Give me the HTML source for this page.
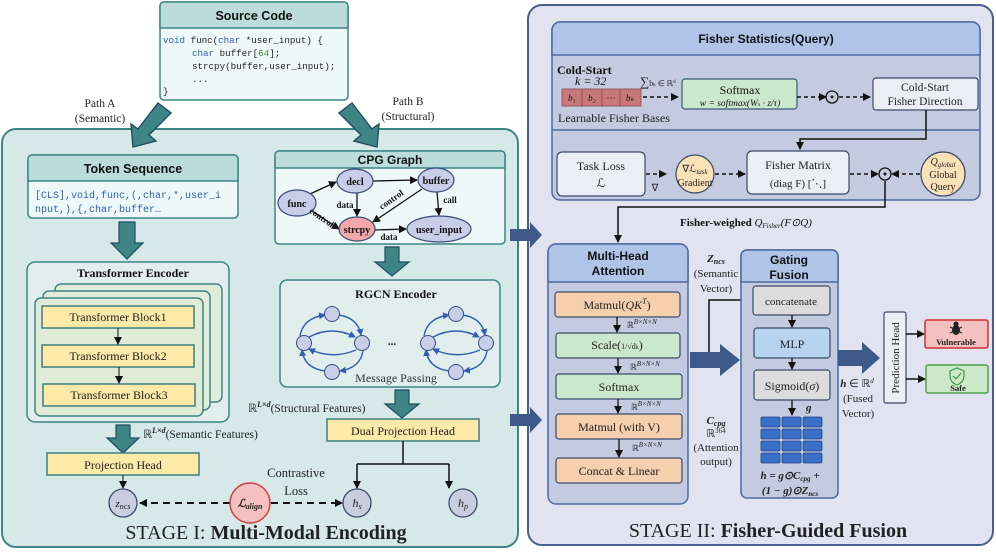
<!DOCTYPE html>
<html><head><meta charset="utf-8"><style>
html,body{margin:0;padding:0;background:#fff}
svg{display:block}
.s{font-family:"Liberation Sans",sans-serif}
.r{font-family:"Liberation Serif",serif}
.m{font-family:"Liberation Mono",monospace}
</style></head><body>
<svg width="996" height="555" viewBox="0 0 996 555" xmlns="http://www.w3.org/2000/svg">
<defs>
<marker id="a" markerWidth="8" markerHeight="8" refX="7" refY="4" orient="auto" markerUnits="userSpaceOnUse"><path d="M0,0 L8,4 L0,8 z" fill="#111"/></marker>
<marker id="ab" markerWidth="7" markerHeight="7" refX="6" refY="3.5" orient="auto" markerUnits="userSpaceOnUse"><path d="M0,0 L7,3.5 L0,7 z" fill="#2f5fb0"/></marker>
</defs>

<rect x="2" y="129" width="516" height="418" rx="14" fill="#d6e8e8" stroke="#3d8585" stroke-width="2"/>
<rect x="528" y="5" width="465" height="540" rx="14" fill="#e1e4f0" stroke="#4a5f8f" stroke-width="2"/>

<rect x="160" y="2" width="188" height="98" rx="4" fill="#eef8f8" stroke="#3d8585" stroke-width="1.5"/>
<path d="M164,2 H344 a4,4 0 0 1 4,4 V28 H160 V6 a4,4 0 0 1 4,-4z" fill="#bcdcdc" stroke="#3d8585" stroke-width="1.5"/>
<text x="254" y="20" text-anchor="middle" class="s" font-size="12.5" font-weight="bold" fill="#111">Source Code</text>
<g class="m" font-size="9.2" fill="#222">
<text x="163" y="43"><tspan fill="#3060b0">void</tspan> func(<tspan fill="#3060b0">char</tspan> *user_input) {</text>
<text x="192" y="56"><tspan fill="#3060b0">char</tspan> buffer[<tspan fill="#3a8a3a">64</tspan>];</text>
<text x="192" y="69">strcpy(buffer,user_input);</text>
<text x="192" y="82">...</text>
<text x="163" y="94">}</text>
</g>

<text x="100" y="107" text-anchor="middle" class="r" font-size="11.5" fill="#222">Path A</text>
<text x="100" y="122" text-anchor="middle" class="r" font-size="11.5" fill="#222">(Semantic)</text>
<text x="408" y="105" text-anchor="middle" class="r" font-size="11.5" fill="#222">Path B</text>
<text x="408" y="120" text-anchor="middle" class="r" font-size="11.5" fill="#222">(Structural)</text>

<polygon points="158,103 171,113 149,135 156,141 133,147 131,124 138,129" fill="#3f8585" stroke="#1f4f5f" stroke-width="1.4"/>
<polygon points="352,103 339,113 361,135 354,141 377,147 379,124 372,129" fill="#3f8585" stroke="#1f4f5f" stroke-width="1.4"/>

<rect x="28" y="155" width="210" height="63" rx="4" fill="#eef8f8" stroke="#3d8585" stroke-width="1.5"/>
<path d="M32,155 H234 a4,4 0 0 1 4,4 V181 H28 V159 a4,4 0 0 1 4,-4z" fill="#bcdcdc" stroke="#3d8585" stroke-width="1.5"/>
<text x="133" y="173" text-anchor="middle" class="s" font-size="12.5" font-weight="bold" fill="#111">Token Sequence</text>
<text x="35" y="198" class="m" font-size="10" fill="#3060b0">[CLS],void,func,(,char,*,user_i</text>
<text x="35" y="212" class="m" font-size="10" fill="#3060b0">nput,),{,char,buffer…</text>

<polygon points="119,222 135,222 135,243 143,243 127,259 111,243 119,243" fill="#3f8585" stroke="#1f4f5f" stroke-width="1.2"/>

<rect x="27" y="262" width="202" height="160" rx="8" fill="#e2eeee" stroke="#3d8585" stroke-width="1.5"/>
<text x="133" y="277" text-anchor="middle" class="r" font-size="12" font-weight="bold" fill="#111">Transformer Encoder</text>
<rect x="55" y="284" width="167" height="118" rx="6" fill="#e0ecd8" stroke="#3d8585" stroke-width="1.5"/>
<rect x="43" y="291" width="167" height="119" rx="6" fill="#e0ecd8" stroke="#3d8585" stroke-width="1.5"/>
<rect x="35" y="298" width="168" height="118" rx="6" fill="#e0ecd8" stroke="#3d8585" stroke-width="1.5"/>
<g stroke="#3d7f7f" stroke-width="1.5" fill="#fde9a8">
<rect x="42" y="306" width="152" height="22"/>
<rect x="42" y="345" width="152" height="22"/>
<rect x="43" y="384" width="152" height="22"/>
</g>
<g class="r" font-size="12" fill="#222" text-anchor="middle">
<text x="118" y="321">Transformer Block1</text>
<text x="118" y="360">Transformer Block2</text>
<text x="119" y="399">Transformer Block3</text>
</g>
<line x1="118" y1="328" x2="118" y2="344" stroke="#111" marker-end="url(#a)"/>
<line x1="119" y1="367" x2="119" y2="383" stroke="#111" marker-end="url(#a)"/>

<polygon points="116,425 130,425 130,438 139,438 123,453 107,438 116,438" fill="#3f8585" stroke="#1f4f5f" stroke-width="1.2"/>
<text x="143" y="438" class="r" font-size="11.5" fill="#222">ℝ<tspan font-size="8" dy="-5" font-style="italic" font-weight="bold">L×d</tspan><tspan dy="5">(Semantic Features)</tspan></text>

<rect x="47" y="453" width="152" height="22" fill="#fde9a8" stroke="#3d7f7f" stroke-width="1.5"/>
<text x="123" y="469" text-anchor="middle" class="r" font-size="12" fill="#222">Projection Head</text>
<line x1="123" y1="475" x2="123" y2="488" stroke="#111" marker-end="url(#a)"/>

<circle cx="123" cy="503" r="14" fill="#c8cee0" stroke="#3a4a6a" stroke-width="1.3"/>
<text x="123" y="507" text-anchor="middle" class="r" font-size="11" font-style="italic" fill="#222">z<tspan font-size="8" dy="2">ncs</tspan></text>
<line x1="230" y1="503" x2="140" y2="503" stroke="#111" stroke-width="2" stroke-dasharray="7,5" marker-end="url(#a)"/>
<line x1="271" y1="503" x2="342" y2="503" stroke="#111" stroke-width="2" stroke-dasharray="7,5" marker-end="url(#a)"/>
<circle cx="250" cy="503" r="20" fill="#f5c0c0" stroke="#d04040" stroke-width="1.5"/>
<text x="250" y="507" text-anchor="middle" class="r" font-size="11" font-style="italic" font-weight="bold" fill="#222">ℒ<tspan font-size="8" dy="2">align</tspan></text>
<text x="296" y="477" text-anchor="middle" class="r" font-size="12.5" fill="#222">Contrastive</text>
<text x="296" y="495" text-anchor="middle" class="r" font-size="12.5" fill="#222">Loss</text>
<circle cx="357" cy="503" r="14" fill="#c8cee0" stroke="#3a4a6a" stroke-width="1.3"/>
<text x="357" y="507" text-anchor="middle" class="r" font-size="12" font-style="italic" fill="#222">h<tspan font-size="8" dy="2">s</tspan></text>
<circle cx="463" cy="503" r="14" fill="#c8cee0" stroke="#3a4a6a" stroke-width="1.3"/>
<text x="463" y="507" text-anchor="middle" class="r" font-size="12" font-style="italic" fill="#222">h<tspan font-size="8" dy="2">p</tspan></text>

<text x="266" y="539" text-anchor="middle" class="r" font-size="20" fill="#222">STAGE I: <tspan font-weight="bold">Multi-Modal Encoding</tspan></text>

<rect x="275" y="151" width="230" height="93" rx="4" fill="#eef8f8" stroke="#3d8585" stroke-width="1.5"/>
<path d="M279,151 H501 a4,4 0 0 1 4,4 V168 H275 V155 a4,4 0 0 1 4,-4z" fill="#bcdcdc" stroke="#3d8585" stroke-width="1.5"/>
<text x="390" y="164" text-anchor="middle" class="s" font-size="12" font-weight="bold" fill="#111">CPG Graph</text>
<g stroke="#111" stroke-width="1.3">
<line x1="310" y1="194" x2="336" y2="182" marker-end="url(#a)"/>
<line x1="373" y1="181" x2="417" y2="180" marker-end="url(#a)"/>
<line x1="357" y1="193" x2="357" y2="216" marker-end="url(#a)"/>
<line x1="422" y1="189" x2="373" y2="222" marker-end="url(#a)"/>
<line x1="437" y1="192" x2="439" y2="215" marker-end="url(#a)"/>
<line x1="312" y1="211" x2="339" y2="229" marker-end="url(#a)"/>
<line x1="375" y1="230" x2="406" y2="229" marker-end="url(#a)"/>
</g>
<g fill="#c8cee8" stroke="#3a4a7a" stroke-width="1.2">
<ellipse cx="297" cy="203" rx="19" ry="13"/>
<ellipse cx="355" cy="181" rx="18" ry="12"/>
<ellipse cx="436" cy="180" rx="18" ry="12"/>
<ellipse cx="357" cy="229" rx="18" ry="12" fill="#f2a8a8"/>
<ellipse cx="439" cy="229" rx="32" ry="13"/>
</g>
<g class="r" font-size="10" font-weight="bold" fill="#111" text-anchor="middle">
<text x="297" y="207">func</text><text x="355" y="185">decl</text><text x="436" y="184">buffer</text>
<text x="357" y="233">strcpy</text><text x="439" y="233">user_input</text>
<text x="345" y="208" font-size="9">data</text><text x="450" y="203" font-size="9">call</text>
<text x="389" y="240" font-size="9">data</text>
<text x="393" y="202" font-size="9" transform="rotate(-35 393 202)">control</text>
<text x="320" y="220" font-size="9" transform="rotate(35 320 220)">control</text>
</g>

<polygon points="385,247 399,247 399,262 409,262 392,276 375,262 385,262" fill="#3f8585" stroke="#1f4f5f" stroke-width="1.2"/>

<rect x="280" y="280" width="220" height="107" rx="7" fill="#e2eeee" stroke="#3d8585" stroke-width="1.5"/>
<text x="396" y="298" text-anchor="middle" class="r" font-size="12" font-weight="bold" fill="#111">RGCN Encoder</text>
<g id="g1" fill="none" stroke="#2f5fb0" stroke-width="1.4">
<path d="M300,336 Q303,318 325,315" marker-end="url(#ab)"/>
<path d="M339,315 Q358,318 361,335" marker-end="url(#ab)"/>
<path d="M363,351 Q360,368 340,371" marker-end="url(#ab)"/>
<path d="M325,371 Q304,368 302,350" marker-end="url(#ab)"/>
<path d="M309,337 Q332,325 355,337" marker-end="url(#ab)"/>
<path d="M356,350 Q332,360 309,349" marker-end="url(#ab)"/>
</g>
<use href="#g1" transform="translate(124,0)"/>
<g fill="#c8cee8" stroke="#3a4a7a" stroke-width="1">
<circle cx="332" cy="314" r="7.5"/><circle cx="304" cy="343" r="7.5"/><circle cx="362" cy="343" r="7.5"/><circle cx="332" cy="372" r="7.5"/>
<circle cx="456" cy="314" r="7.5"/><circle cx="428" cy="343" r="7.5"/><circle cx="486" cy="343" r="7.5"/><circle cx="456" cy="372" r="7.5"/>
</g>
<text x="392" y="345" text-anchor="middle" class="r" font-size="11" font-weight="bold" fill="#222">...</text>
<text x="396" y="382" text-anchor="middle" class="r" font-size="12" fill="#333">Message Passing</text>

<polygon points="395,390 409,390 409,404 419,404 402,418 385,404 395,404" fill="#3f8585" stroke="#1f4f5f" stroke-width="1.2"/>
<text x="248" y="412" class="r" font-size="11.5" fill="#222">ℝ<tspan font-size="8" dy="-5" font-style="italic" font-weight="bold">L×d</tspan><tspan dy="5">(Structural Features)</tspan></text>
<rect x="327" y="419" width="152" height="22" fill="#fde9a8" stroke="#3d7f7f" stroke-width="1.5"/>
<text x="403" y="435" text-anchor="middle" class="r" font-size="12" fill="#222">Dual Projection Head</text>
<path d="M403,441 V464 M357,464 H449 M357,464 V488 M449,464 V488" fill="none" stroke="#111" stroke-width="1.5"/>
<line x1="357" y1="480" x2="357" y2="488" stroke="#111" marker-end="url(#a)"/>
<line x1="449" y1="480" x2="449" y2="488" stroke="#111" marker-end="url(#a)"/>

<polygon points="510,229 530,229 530,222 542,235 530,248 530,241 510,241" fill="#3d5a8a"/>
<polygon points="510,414 530,414 530,407 542,420 530,433 530,426 510,426" fill="#3d5a8a"/>

<rect x="552" y="22" width="428" height="178" rx="8" fill="#c4cbe0" stroke="#4a6aa0" stroke-width="1.5"/>
<path d="M560,22 H972 a8,8 0 0 1 8,8 V55 H552 V30 a8,8 0 0 1 8,-8z" fill="#b0c4e8" stroke="#4a6aa0" stroke-width="1.5"/>
<line x1="552" y1="130" x2="980" y2="130" stroke="#4a6aa0" stroke-width="1.5"/>
<text x="766" y="43" text-anchor="middle" class="s" font-size="12" font-weight="bold" fill="#111">Fisher Statistics(Query)</text>
<text x="557" y="74" class="r" font-size="12" font-weight="bold" fill="#111">Cold-Start</text>
<text x="575" y="85" class="r" font-size="12" font-style="italic" fill="#111">k = 32</text>
<text x="640" y="86" class="r" font-size="8" fill="#222"><tspan font-size="13">∑</tspan>b<tspan font-size="5">k</tspan> ∈ ℝ<tspan font-size="5" dy="-3">d</tspan></text>
<g fill="#c87878" stroke="#8a4a4a" stroke-width="0.8">
<rect x="562" y="89" width="20" height="17"/><rect x="582" y="89" width="20" height="17"/><rect x="602" y="89" width="18" height="17"/><rect x="620" y="89" width="21" height="17"/>
</g>
<g class="r" font-size="9" font-style="italic" fill="#111" text-anchor="middle">
<text x="572" y="101">b₁</text><text x="592" y="101">b₂</text><text x="611" y="101" font-style="normal">···</text><text x="630" y="101">bₖ</text>
</g>
<line x1="643" y1="97" x2="678" y2="97" stroke="#111" stroke-width="1.5" stroke-dasharray="4,3" marker-end="url(#a)"/>
<rect x="682" y="79" width="115" height="30" rx="3" fill="#cce8cc" stroke="#3a5a7a" stroke-width="1.2"/>
<text x="740" y="94" text-anchor="middle" class="r" font-size="12" fill="#111">Softmax</text>
<text x="740" y="106" text-anchor="middle" class="r" font-size="9.5" font-style="italic" fill="#111">w = softmax(W<tspan font-size="6">s</tspan> · z/τ)</text>
<line x1="797" y1="97" x2="826" y2="97" stroke="#111" stroke-width="1.5" stroke-dasharray="4,3" marker-end="url(#a)"/>
<circle cx="832" cy="97" r="6" fill="none" stroke="#111" stroke-width="1.3"/><circle cx="832" cy="97" r="1.5" fill="#111"/>
<line x1="839" y1="97" x2="870" y2="97" stroke="#111" stroke-width="1.5" stroke-dasharray="4,3" marker-end="url(#a)"/>
<rect x="873" y="78" width="105" height="32" rx="3" fill="#eceef5" stroke="#3a4a6a" stroke-width="1.2"/>
<text x="925" y="91" text-anchor="middle" class="r" font-size="11.5" fill="#222">Cold-Start</text>
<text x="925" y="105" text-anchor="middle" class="r" font-size="11.5" fill="#222">Fisher Direction</text>
<text x="558" y="122" class="r" font-size="12" fill="#222">Learnable Fisher Bases</text>
<path d="M926,110 V139 H800 V149" fill="none" stroke="#111" stroke-width="1.5" marker-end="url(#a)"/>

<rect x="557" y="152" width="88" height="44" rx="5" fill="#eceef5" stroke="#3a4a6a" stroke-width="1.2"/>
<text x="601" y="170" text-anchor="middle" class="r" font-size="12" fill="#222">Task Loss</text>
<text x="601" y="187" text-anchor="middle" class="r" font-size="12" fill="#222">ℒ</text>
<line x1="646" y1="174" x2="666" y2="174" stroke="#111" stroke-width="1.5" stroke-dasharray="4,3" marker-end="url(#a)"/>
<text x="655" y="191" text-anchor="middle" class="r" font-size="10" fill="#222">∇</text>
<circle cx="695" cy="174" r="19" fill="#fbe1b8" stroke="#3a4a6a" stroke-width="1.2"/>
<text x="695" y="172" text-anchor="middle" class="r" font-size="10" fill="#222">∇ℒ<tspan font-size="7" font-style="italic" dy="2">task</tspan></text>
<text x="695" y="186" text-anchor="middle" class="r" font-size="10" fill="#222">Gradient</text>
<line x1="715" y1="174" x2="745" y2="174" stroke="#111" stroke-width="1.5" stroke-dasharray="4,3" marker-end="url(#a)"/>
<rect x="747" y="151" width="102" height="43" rx="5" fill="#eceef5" stroke="#3a4a6a" stroke-width="1.2"/>
<text x="798" y="169" text-anchor="middle" class="r" font-size="12" fill="#222">Fisher Matrix</text>
<text x="798" y="187" text-anchor="middle" class="r" font-size="11" fill="#222">(diag F)  [⋱]</text>
<line x1="850" y1="174" x2="878" y2="174" stroke="#111" stroke-width="1.5" stroke-dasharray="4,3" marker-end="url(#a)"/>
<circle cx="885" cy="174" r="6" fill="none" stroke="#111" stroke-width="1.3"/><circle cx="885" cy="174" r="1.5" fill="#111"/>
<line x1="920" y1="174" x2="892" y2="174" stroke="#111" stroke-width="1.5" stroke-dasharray="4,3" marker-end="url(#a)"/>
<circle cx="943" cy="174" r="22" fill="#fbe1b8" stroke="#3a4a6a" stroke-width="1.2"/>
<text x="943" y="165" text-anchor="middle" class="r" font-size="10" font-style="italic" fill="#222">Q<tspan font-size="7" dy="2">global</tspan></text>
<text x="943" y="178" text-anchor="middle" class="r" font-size="10" fill="#222">Global</text>
<text x="943" y="190" text-anchor="middle" class="r" font-size="10" fill="#222">Query</text>
<path d="M885,181 V207 H618 V242" fill="none" stroke="#111" stroke-width="1.5" marker-end="url(#a)"/>
<text x="680" y="226" class="r" font-size="11" fill="#111"><tspan font-weight="bold">Fisher-weighed</tspan> <tspan font-style="italic">Q<tspan font-size="7" dy="2">Fisher</tspan><tspan dy="-2">(F⊙Q)</tspan></tspan></text>

<rect x="548" y="244" width="140" height="260" rx="8" fill="#c4cbe0" stroke="#4a6aa0" stroke-width="1.5"/>
<path d="M556,244 H680 a8,8 0 0 1 8,8 V282 H548 V252 a8,8 0 0 1 8,-8z" fill="#b0c4e8" stroke="#4a6aa0" stroke-width="1.5"/>
<text x="618" y="260" text-anchor="middle" class="s" font-size="12" font-weight="bold" fill="#111">Multi-Head</text>
<text x="618" y="275" text-anchor="middle" class="s" font-size="12" font-weight="bold" fill="#111">Attention</text>
<g stroke="#3a4a6a" stroke-width="1.2">
<rect x="555" y="292" width="125" height="25" rx="3" fill="#f5cfae"/>
<rect x="556" y="333" width="124" height="25" rx="3" fill="#cce8cc"/>
<rect x="556" y="374" width="126" height="25" rx="3" fill="#cce8cc"/>
<rect x="556" y="414" width="126" height="25" rx="3" fill="#f5cfae"/>
<rect x="556" y="458" width="126" height="25" rx="3" fill="#f5cfae"/>
</g>
<g class="r" font-size="12" fill="#222" text-anchor="middle">
<text x="617" y="309">Matmul(<tspan font-style="italic">QK<tspan font-size="8" dy="-5">T</tspan></tspan><tspan dy="5">)</tspan></text>
<text x="617" y="349">Scale(<tspan font-size="8">1/√d<tspan font-size="6">k</tspan></tspan>)</text>
<text x="619" y="391">Softmax</text>
<text x="619" y="431">Matmul (with V)</text>
<text x="619" y="475">Concat &amp; Linear</text>
</g>
<g stroke="#111" stroke-width="1.3">
<line x1="617" y1="317" x2="617" y2="332" marker-end="url(#a)"/>
<line x1="618" y1="358" x2="618" y2="373" marker-end="url(#a)"/>
<line x1="618" y1="399" x2="618" y2="413" marker-end="url(#a)"/>
<line x1="619" y1="439" x2="619" y2="457" marker-end="url(#a)"/>
</g>
<g class="r" font-size="8.5" fill="#222">
<text x="627" y="328">ℝ<tspan font-size="7" font-style="italic" dy="-4">B×N×N</tspan></text>
<text x="630" y="370">ℝ<tspan font-size="7" font-style="italic" dy="-4">B×N×N</tspan></text>
<text x="631" y="410">ℝ<tspan font-size="7" font-style="italic" dy="-4">B×N×N</tspan></text>
<text x="632" y="451">ℝ<tspan font-size="7" font-style="italic" dy="-4">B×N×N</tspan></text>
</g>

<g class="r" font-size="11" fill="#222" text-anchor="middle">
<text x="716" y="262" font-weight="bold" font-style="italic">Z<tspan font-size="8" dy="2">ncs</tspan></text>
<text x="716" y="277">(Semantic</text><text x="716" y="292">Vector)</text>
<text x="716" y="424" font-weight="bold" font-style="italic">C<tspan font-size="8" dy="2">cpg</tspan></text>
<text x="716" y="437">ℝ<tspan font-size="7" dy="-4">364</tspan></text>
<text x="716" y="451">(Attention</text><text x="716" y="465">output)</text>
</g>
<polygon points="690,352 720,352 720,344 740,360 720,376 720,368 690,368" fill="#3d5a8a"/>
<path d="M709,352 V300 H750" fill="none" stroke="#111" stroke-width="1.5" marker-end="url(#a)"/>

<rect x="741" y="250" width="97" height="248" rx="6" fill="#c4cbe0" stroke="#4a6aa0" stroke-width="1.5"/>
<path d="M747,250 H832 a6,6 0 0 1 6,6 V282 H741 V256 a6,6 0 0 1 6,-6z" fill="#b0c4e8" stroke="#4a6aa0" stroke-width="1.5"/>
<text x="789" y="264" text-anchor="middle" class="s" font-size="12" font-weight="bold" fill="#111">Gating</text>
<text x="789" y="279" text-anchor="middle" class="s" font-size="12" font-weight="bold" fill="#111">Fusion</text>
<rect x="753" y="286" width="77" height="29" rx="3" fill="#dcdcdc" stroke="#3a4a6a" stroke-width="1.2"/>
<text x="791" y="305" text-anchor="middle" class="r" font-size="11" fill="#222">concatenate</text>
<rect x="754" y="328" width="76" height="30" rx="3" fill="#b7d4ee" stroke="#3a4a6a" stroke-width="1.2"/>
<text x="792" y="348" text-anchor="middle" class="r" font-size="12" fill="#222">MLP</text>
<rect x="754" y="370" width="76" height="30" rx="3" fill="#dcdcdc" stroke="#3a4a6a" stroke-width="1.2"/>
<text x="792" y="390" text-anchor="middle" class="r" font-size="12" fill="#222">Sigmoid(<tspan font-style="italic">σ</tspan>)</text>
<g stroke="#111" stroke-width="1.3">
<line x1="792" y1="315" x2="792" y2="327" marker-end="url(#a)"/>
<line x1="792" y1="358" x2="792" y2="369" marker-end="url(#a)"/>
<line x1="792" y1="400" x2="792" y2="415" marker-end="url(#a)"/>
</g>
<text x="806" y="411" class="r" font-size="11" font-style="italic" font-weight="bold" fill="#222">g</text>
<g fill="#3a6fc8" stroke="#1f3f80" stroke-width="0.8">
<rect x="761" y="417" width="19" height="10" rx="1.5"/><rect x="782" y="417" width="19" height="10" rx="1.5"/><rect x="803" y="417" width="19" height="10" rx="1.5"/>
<rect x="761" y="429" width="19" height="10" rx="1.5"/><rect x="782" y="429" width="19" height="10" rx="1.5"/><rect x="803" y="429" width="19" height="10" rx="1.5"/>
<rect x="761" y="441" width="19" height="10" rx="1.5"/><rect x="782" y="441" width="19" height="10" rx="1.5"/><rect x="803" y="441" width="19" height="10" rx="1.5"/>
<rect x="761" y="453" width="19" height="10" rx="1.5"/><rect x="782" y="453" width="19" height="10" rx="1.5"/><rect x="803" y="453" width="19" height="10" rx="1.5"/>
</g>
<text x="790" y="479" text-anchor="middle" class="r" font-size="11" font-weight="bold" font-style="italic" fill="#222">h = g⊙C<tspan font-size="7" dy="2">cpg</tspan><tspan dy="-2"> +</tspan></text>
<text x="790" y="494" text-anchor="middle" class="r" font-size="11" font-weight="bold" font-style="italic" fill="#222">(1 − g)⊙Z<tspan font-size="7" dy="2">ncs</tspan></text>

<polygon points="838,350 862,350 862,342 880,358 862,374 862,366 838,366" fill="#3d5a8a"/>
<g class="r" font-size="11" fill="#222" text-anchor="middle">
<text x="857" y="387" font-style="italic" font-weight="bold">h <tspan font-style="normal" font-weight="normal">∈ ℝ<tspan font-size="7" dy="-4" font-style="italic">d</tspan></tspan></text>
<text x="858" y="402">(Fused</text><text x="858" y="417">Vector)</text>
</g>

<rect x="884" y="312" width="22" height="91" rx="2" fill="#eceef5" stroke="#3a4a6a" stroke-width="1.2"/>
<text x="899" y="358" text-anchor="middle" class="r" font-size="11" fill="#222" transform="rotate(-90 899 358)">Prediction Head</text>
<line x1="906" y1="334" x2="924" y2="334" stroke="#111" stroke-width="1.5" marker-end="url(#a)"/>
<line x1="906" y1="379" x2="925" y2="379" stroke="#111" stroke-width="1.5" marker-end="url(#a)"/>
<rect x="925" y="320" width="63" height="28" rx="2" fill="#f5c0c0" stroke="#d03030" stroke-width="1.5"/>
<g fill="#222"><ellipse cx="956" cy="330" rx="4" ry="5"/><circle cx="956" cy="324" r="2.5"/>
<path d="M950,327 L962,333 M962,327 L950,333" stroke="#222" stroke-width="1"/></g>
<text x="956" y="345" text-anchor="middle" class="r" font-size="8.5" font-weight="bold" fill="#222">Vulnerable</text>
<rect x="926" y="365" width="62" height="28" rx="2" fill="#cde8c8" stroke="#50a050" stroke-width="1.5"/>
<path d="M957,368 L964,371 V376 Q964,382 957,385 Q950,382 950,376 V371z" fill="none" stroke="#3a9a4a" stroke-width="1.2"/>
<path d="M953,376 L956,379 L961,373" fill="none" stroke="#3a9a4a" stroke-width="1.2"/>
<text x="958" y="391" text-anchor="middle" class="r" font-size="8.5" font-weight="bold" fill="#222">Safe</text>

<text x="768" y="537" text-anchor="middle" class="r" font-size="20" fill="#222">STAGE II: <tspan font-weight="bold">Fisher-Guided Fusion</tspan></text>
</svg>
</body></html>
